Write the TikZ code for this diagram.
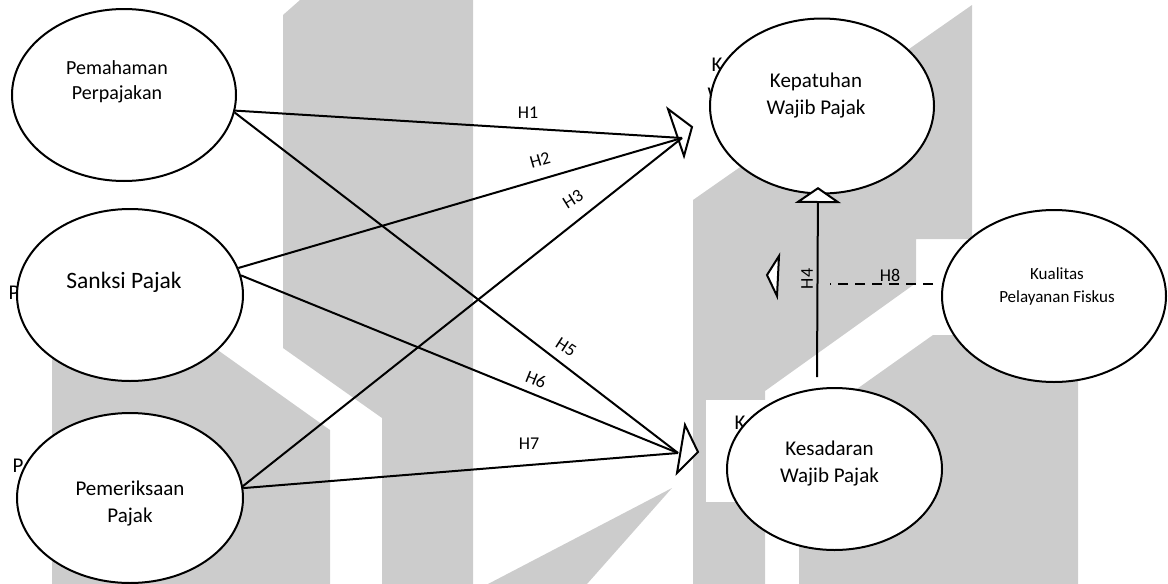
\documentclass[tikz,border=0pt]{standalone}
\usepackage{fontspec}
\setmainfont{Carlito}
\usetikzlibrary{shapes,arrows.meta}
\definecolor{wmgrey}{HTML}{CCCCCC}

\begin{document}
\begin{tikzpicture}[x=1pt, y=-1pt,
    var/.style={ellipse, draw, fill=white, line width=2pt, inner sep=0pt},
    vartext/.style={align=center, inner sep=0pt, font=\fontsize{21}{27}\selectfont},
    link/.style={line width=2pt},
    hyplabel/.style={inner sep=0pt, font=\fontsize{18}{18}\selectfont},
    headtri/.style={draw, fill=white, line width=2pt},
    stray/.style={inner sep=0pt, font=\fontsize{21}{21}\selectfont}]
\useasboundingbox (0,0) rectangle (1168,584);

% watermark in the background
\fill[wmgrey] (300,0) -- (473,0) -- (473,584) -- (382,584) -- (382,418) -- (283,348) -- (283,15) -- cycle;
\fill[wmgrey] (52,232) -- (330,430) -- (330,584) -- (52,584) -- cycle;
\fill[wmgrey] (488,584) -- (672,488) -- (587,584) -- cycle;
\fill[wmgrey] (693,200) -- (972,5) -- (972,239) -- (916,239) -- (916,283) -- (765,391) -- (765,584) -- (693,584) -- cycle;
\fill[wmgrey] (799,584) -- (799,430) -- (933,335) -- (1078,335) -- (1078,584) -- cycle;
\fill[white] (706,400) rectangle (766,502);

% letters left behind the ellipses
\node[stray] (p1) at (14,293) {P};
\node[stray] (p2) at (18,466) {P};
\node[stray] (k1) at (717,65) {K};
\node[stray] (w1) at (717,95) {W};
\node[stray] (k2) at (740,423) {K};

% variables
\node[var, minimum width=224pt, minimum height=172pt] (pem) at (124,95) {};
\node[var, minimum width=226pt, minimum height=172pt] (sank) at (130,295) {};
\node[var, minimum width=226pt, minimum height=170pt] (pemr) at (130,498) {};
\node[var, minimum width=224pt, minimum height=175pt] (kep) at (822,106) {};
\node[var, minimum width=224pt, minimum height=172pt] (kual) at (1054,296) {};
\node[var, minimum width=215pt, minimum height=162pt] (kes) at (834.5,469) {};

\node[vartext, font=\fontsize{20}{25}\selectfont] (pem-t) at ([xshift=-7pt, yshift=13.5pt]pem.center) {Pemahaman\\Perpajakan};
\node[vartext, font=\fontsize{23.5}{28}\selectfont] (sank-t) at ([xshift=-6pt, yshift=13pt]sank.center) {Sanksi Pajak};
\node[vartext] (pemr-t) at ([yshift=-6pt]pemr.center) {Pemeriksaan\\Pajak};
\node[vartext] (kep-t) at ([xshift=-6pt, yshift=10pt]kep.center) {Kepatuhan\\Wajib Pajak};
\node[vartext, font=\fontsize{17}{23}\selectfont] (kual-t) at ([xshift=3pt, yshift=9.5pt]kual.center) {Kualitas\\Pelayanan Fiskus};
\node[vartext] (kes-t) at ([xshift=-5pt, yshift=5pt]kes.center) {Kesadaran\\Wajib Pajak};

% arrow heads where the lines meet
\coordinate (hubK) at (682,138);
\coordinate (hubS) at (678,453);
\coordinate (h8end) at (830,284);
\draw[headtri] (hubK) ++(-14,-29) -- ++(24,18) -- ++(-8,29) -- cycle;
\draw[headtri] (hubS) ++(7,-28) -- ++(13,27) -- ++(-21,21) -- cycle;
\draw[headtri] (779,256) -- (767,275) -- (777,296) -- cycle;

% hypotheses
\draw[link] (pem.-8) -- (hubK);
\draw[link] (sank.14) -- (hubK);
\draw[link] (pemr.6) -- (hubK);
\draw[link] (pem.-9) -- (hubS);
\draw[link] (sank.10) -- (hubS);
\draw[link] (pemr.5) -- (hubS);
\draw[link, -{Triangle[fill=white, length=16pt, width=46pt]}] ([xshift=-17.5pt, yshift=10pt]kes.north) -- ([xshift=-4pt, yshift=7.5pt]kep.south);
\draw[link, line width=2.6pt, dash pattern=on 10pt off 7pt] ([xshift=-8pt, yshift=12pt]kual.west) -- (h8end);

\node[hyplabel] (h1) at (528,113) {H1};
\node[hyplabel, rotate=16] (h2) at (540,160) {H2};
\node[hyplabel, rotate=32] (h3) at (573,199) {H3};
\node[hyplabel, rotate=90] (h4) at (807,279) {H4};
\node[hyplabel, rotate=-33] (h5) at (566,347) {H5};
\node[hyplabel, rotate=-22] (h6) at (536,380) {H6};
\node[hyplabel] (h7) at (529,444) {H7};
\node[hyplabel] (h8) at (890,275) {H8};
\end{tikzpicture}
\end{document}
